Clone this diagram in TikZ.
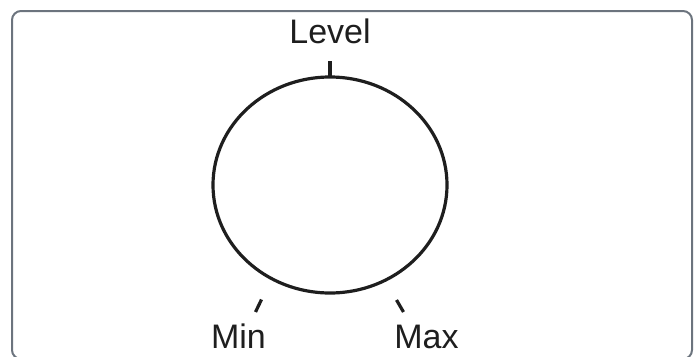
\documentclass[tikz,border=0pt]{standalone}
\usepackage{fontspec}
\setmainfont{Liberation Sans}
\definecolor{framegray}{RGB}{108,116,126}
\definecolor{ink}{RGB}{30,30,30}
\begin{document}
\begin{tikzpicture}[x=1pt,y=-1pt,
  lbl/.style={anchor=base,inner sep=0pt,font=\fontsize{34}{38}\selectfont,text=ink},
  tickline/.style={draw=ink,line width=3.2pt},
  knob/.style={draw=ink,line width=3.2pt}]
\useasboundingbox (0,0) rectangle (698,356);
\draw[draw=framegray,line width=2pt,rounded corners=9pt] (12,11) rectangle (692,359);
\draw[knob] (330,185) ellipse [x radius=117, y radius=108];
\coordinate (t1) at (330,61);
\coordinate (t2) at (330,77);
\draw[tickline] (t1) -- (t2);
\coordinate (m1) at (261.5,299.5);
\coordinate (m2) at (255.5,312);
\draw[tickline] (m1) -- (m2);
\coordinate (x1) at (396.5,300);
\coordinate (x2) at (403.5,312);
\draw[tickline] (x1) -- (x2);
\node[lbl] (level) at (330,43) {Level};
\node[lbl] (min) at (238.5,348) {Min};
\node[lbl] (max) at (426.5,348) {Max};
\end{tikzpicture}
\end{document}
